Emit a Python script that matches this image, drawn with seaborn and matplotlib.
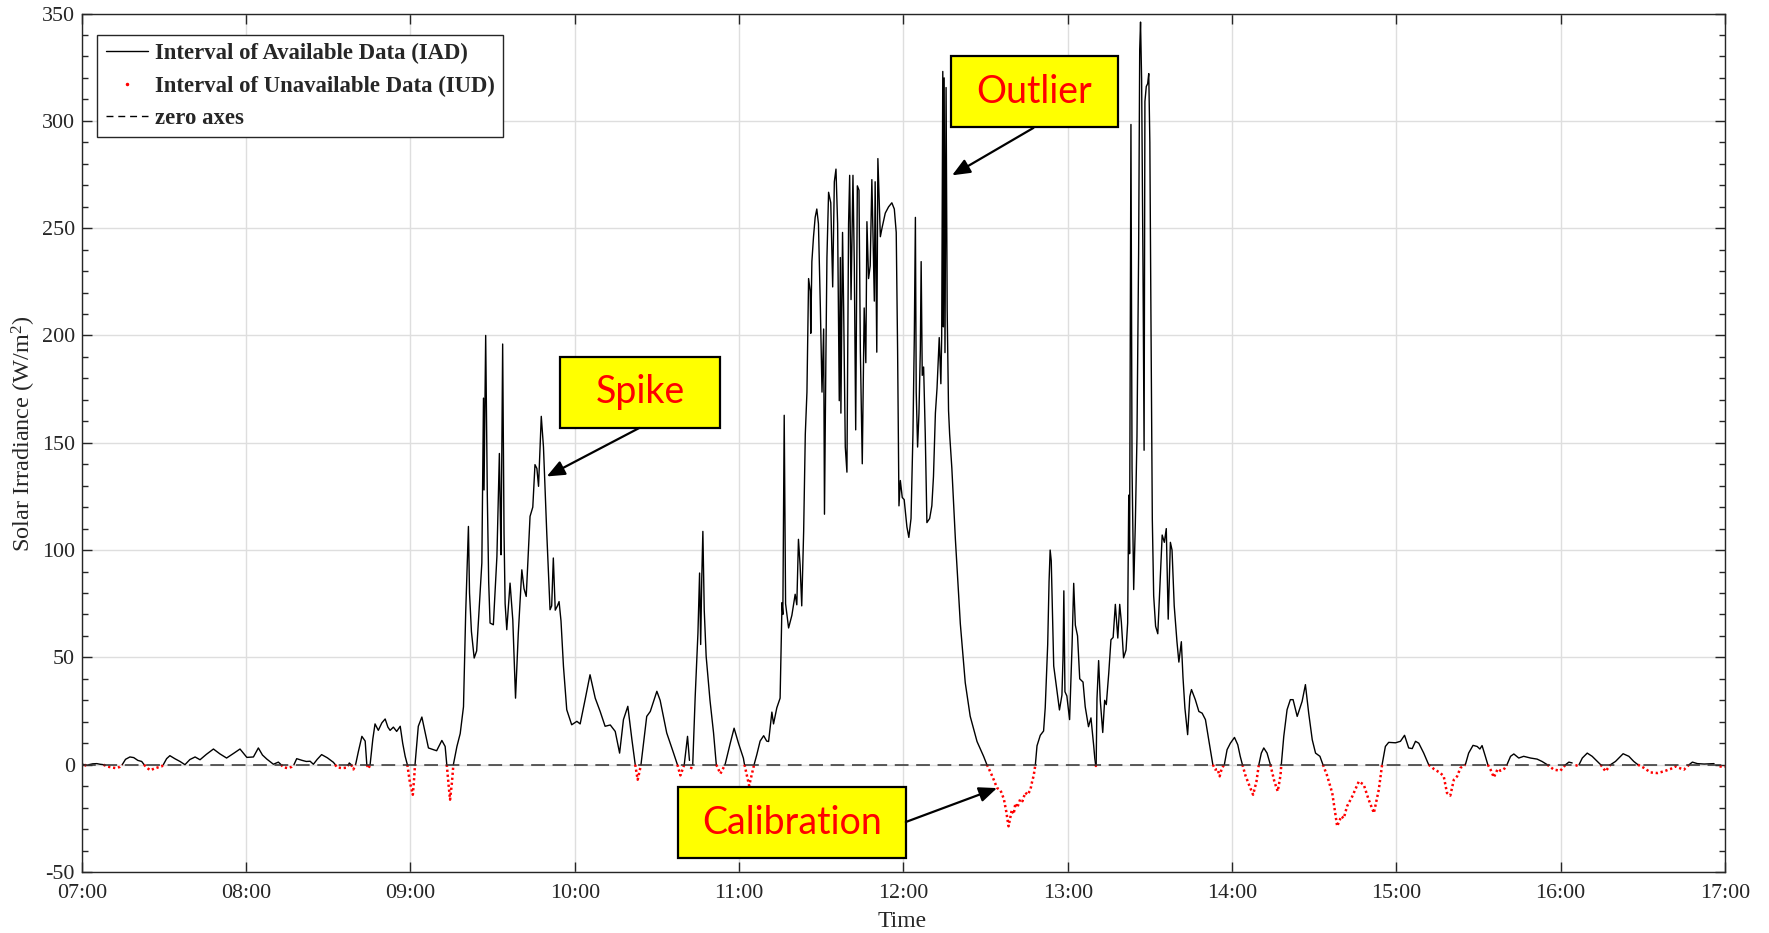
import numpy as np
import pandas as pd
import matplotlib
matplotlib.use("Agg")
import matplotlib.pyplot as plt
from matplotlib.lines import Line2D
from matplotlib.patches import Rectangle
from matplotlib.ticker import MultipleLocator, FixedLocator
import seaborn as sns

# Solar irradiance record, minutes after 07:00 and W/m^2
minutes = [
    0, 1, 1.8, 2.6, 4, 5.5, 6.7, 8, 9.1, 11, 12.5, 14, 14.8, 16, 17.6, 19, 20.5, 21.9,
    22.8, 23.6, 25, 26.5, 28, 29.2, 29.8, 31, 32.2, 34, 35.9, 37.7, 39.5, 41.4, 43.2,
    45.5, 48.1, 50.5, 52.9, 55.5, 57.8, 60.3, 62.7, 64.5, 66, 67.6, 70, 71.8, 72.8,
    73.6, 75.2, 76.7, 77.5, 78.5, 80.5, 82, 83.4, 84.6, 86, 87.6, 89.7, 91.9, 92.6,
    93.1, 95, 96.8, 97.4, 97.7, 98.4, 99.2, 100.0, 101.0, 102.3, 103.5, 104.1, 104.7,
    105.3, 106.3, 107.1, 108.3, 109.6, 110.8, 111.8, 112.6, 113.8, 115.0, 116.3, 117.2,
    118.1, 118.9, 119.8, 120.9, 121.4, 121.7, 122.9, 124.2, 125.4, 126.6, 128.4, 129.6,
    131.5, 132.7, 133.3, 134.0, 134.5, 135.2, 135.7, 137.0, 138.2, 139.4, 140.2, 141.2,
    141.6, 142.3, 143.3, 144.2, 145.0, 146.1, 146.7, 146.9, 147.5, 148.1, 148.6, 149.1,
    150.3, 151.6, 152.5, 152.8, 153.1, 153.7, 154.2, 154.6, 155.2, 156.4, 157.4, 158.4,
    159.4, 160.7, 161.5, 162.3, 163.7, 164.7, 165.5, 166.2, 166.8, 167.8, 168.6, 169.8,
    171.0, 171.6, 172.2, 172.9, 173.7, 174.3, 175.0, 175.9, 177.1, 178.9, 180.8, 182.0,
    183.8, 185.6, 187.5, 189.3, 191.1, 193.0, 194.8, 196.4, 197.8, 199.4, 200.9, 202.1,
    203.0, 204.2, 206.3, 207.6, 210.0, 211.2, 213.6, 216.1, 217.5, 218.6, 220.0, 221.2,
    221.9, 222.4, 223.1, 224.0, 225.0, 225.6, 226.0, 226.4, 226.8, 227.3, 228.0, 229.4,
    230.7, 231.7, 233.2, 234.9, 236.8, 238.2, 239.8, 241.6, 242.0, 243.7, 245.5, 246.5,
    247.7, 249.0, 250.1, 250.8, 252.0, 252.6, 253.8, 255.0, 255.7, 256.0, 256.5, 257.0,
    258.1, 259.3, 260.5, 261.1, 261.7, 262.3, 262.9, 263.6, 264.2, 264.8, 265.4, 266.0,
    266.2, 266.6, 267.2, 267.8, 268.4, 269.0, 269.7, 270.3, 270.9, 271.2, 271.7, 272.1,
    272.7, 273.5, 274.2, 274.8, 275.4, 276.0, 276.6, 277.0, 277.2, 277.8, 278.2, 278.8,
    279.4, 280.0, 280.4, 280.9, 281.6, 282.1, 282.6, 283.2, 283.8, 284.3, 285.0, 285.7,
    286.3, 286.7, 287.3, 287.9, 288.5, 288.9, 289.4, 289.7, 290.3, 290.7, 291.6, 292.2,
    293.4, 294.6, 295.8, 296.7, 297.4, 297.9, 298.4, 298.9, 299.6, 300.3, 301.3, 302.0,
    302.8, 303.5, 304.0, 304.4, 304.7, 305.2, 305.7, 306.2, 306.5, 306.9, 307.4, 308.0,
    308.6, 309.6, 310.4, 311.0, 311.7, 312.3, 313.1, 313.7, 314.0, 314.4, 314.6, 314.9,
    315.2, 315.6, 316.0, 316.5, 316.9, 317.7, 319.0, 320.8, 322.6, 324.4, 326.9, 329.3,
    330.5, 332.0, 333.0, 334.2, 335.5, 336.7, 337.6, 338.4, 339.0, 339.6, 340.3, 340.9,
    341.6, 342.7, 343.5, 344.5, 345.4, 346.4, 347.0, 347.6, 348.2, 348.8, 350.0, 351.2,
    351.8, 352.7, 353.2, 353.6, 354.0, 354.9, 356.1, 357.0, 357.9, 358.3, 358.6, 359.0,
    359.7, 360.7, 361.6, 362.2, 362.8, 363.6, 364.4, 365.6, 366.4, 367.6, 368.5, 369.5,
    369.9, 370.2, 370.3, 370.4, 370.7, 371.3, 371.9, 372.8, 373.5, 374.1, 375.0, 375.8,
    376.6, 377.4, 378.3, 379.0, 379.6, 380.4, 381.3, 381.9, 382.3, 382.6, 383.1, 383.5,
    384.1, 384.7, 385.3, 385.9, 386.3, 386.6, 387.0, 387.5, 387.9, 388.2, 388.7, 389.2,
    389.6, 390.0, 390.4, 390.9, 391.4, 392.1, 392.9, 393.6, 394.5, 395.3, 396.0, 396.7,
    397.5, 398.1, 398.9, 399.9, 400.6, 401.5, 402.1, 402.8, 403.8, 404.6, 405.2, 406.6,
    407.9, 409.1, 410.3, 411.5, 412.3, 413.0, 413.9, 414.7, 415.5, 416.3, 417.2, 418.2,
    419.4, 420.9, 422.1, 423.0, 423.8, 424.9, 426.1, 427.7, 428.9, 429.8, 430.7, 431.6,
    432.8, 434.0, 435.5, 436.7, 437.7, 438.0, 438.9, 440.1, 441.3, 442.3, 443.8, 445.6,
    446.8, 448.0, 449.3, 450.5, 452.1, 453.2, 454.7, 456.6, 458.4, 459.9, 460.8, 462.0,
    463.9, 466.3, 468.1, 469.9, 471.8, 473.6, 474.8, 476.0, 477.2, 479.7, 481.5, 483.0,
    484.5, 485.8, 487.0, 488.2, 490.0, 491.8, 493.7, 496.1, 497.3, 498.5, 499.7, 501.0,
    502.2, 503.4, 505.2, 506.4, 508.0, 509.5, 510.5, 511.3, 512.5, 513.4, 514.4, 515.6,
    517.0, 518.0, 519.2, 520.4, 521.7, 522.9, 524.7, 526.5, 529.0, 531.4, 533.2, 535.1,
    537.5, 539.9, 541.8, 543.0, 544.2, 545.4, 546.7, 547.9, 549.7, 551.5, 553.4, 554.6,
    556.4, 558.2, 560.0, 562.8, 564.9, 566.7, 568.2, 570.4, 572.8, 575.3, 577.7, 580.1,
    582.0, 583.2, 585.0, 586.9, 588.1, 589.9, 592.4, 596.0, 597.9, 600.0,
]

irradiance = [
    0.3, 0.0, -0.6, 0.0, 0.4, 0.5, 0.2, 0.0, -0.8, -1.3, -1.6, -1.0, 0.0, 2.5, 3.6, 3.3, 2.0, 1.5,
    0.0, -1.2, -2.6, -1.8, -1.2, -0.8, 0.0, 2.8, 4.2, 2.8, 1.5, 0.0, 2.4, 3.6, 2.3,
    4.8, 7.3, 5.0, 3.1, 5.3, 7.3, 3.4, 3.6, 7.8, 4.5, 2.6, 0.2, 1.2, 0.0,
    -1.2, -1.6, -1.0, 0.0, 2.8, 2.0, 1.5, 1.6, 0.2, 2.5, 4.7, 3.2, 1.1, 0.0,
    -1.2, -1.6, -1.4, 0.0, 0.8, 0.0, -2.2, 0.0, 6.0, 13.2, 11.0, 0.0, -1.8,
    0.0, 12.0, 19.0, 16.0, 19.5, 21.3, 17.5, 16.0, 17.5, 15.5, 17.9, 10.0,
    3.9, 0.0, -8.0, -14.0, -6.0, 0.0, 17.9, 22.2, 15.0, 7.8, 7.0, 6.5,
    11.3, 8.5, 0.0, -10.0, -16.3, -8.0, 0.0, 8.5, 14.5, 27.0, 70.7, 111.0,
    80.0, 62.0, 49.7, 53.0, 70.0, 94.0, 170.8, 128.0, 200.0, 125.0, 85.0, 66.0,
    65.2, 97.0, 145.0, 120.0, 97.8, 196.0, 108.0, 75.0, 62.9, 84.6, 67.5, 31.0,
    61.0, 90.8, 82.0, 78.4, 115.7, 120.0, 139.8, 138.0, 129.7, 162.3, 148.0, 108.0,
    72.2, 74.0, 96.3, 72.0, 74.0, 76.0, 67.0, 45.8, 25.6, 18.6, 20.2, 19.0,
    30.3, 41.9, 31.0, 24.8, 17.9, 18.5, 15.5, 5.4, 21.0, 27.2, 11.6, 0.0,
    -7.0, 0.0, 22.5, 24.8, 34.2, 30.0, 14.8, 5.4, 0.0, -5.0, 0.0, 13.2,
    2.0, -2.0, 0.0, 31.8, 61.3, 89.3, 56.0, 87.0, 108.7, 72.0, 50.5, 30.0,
    14.8, 0.0, -4.2, 0.0, 10.0, 17.0, 10.0, 3.0, 0.0, -9.8, 0.0, 4.7,
    11.0, 13.5, 11.0, 10.8, 24.5, 19.0, 26.5, 31.0, 75.5, 70.0, 162.8, 75.0,
    63.7, 69.6, 79.4, 74.5, 105.0, 93.0, 74.0, 108.8, 154.0, 173.6, 226.5, 220.6,
    201.0, 234.4, 246.0, 255.0, 258.9, 252.0, 212.8, 173.6, 203.0, 116.7, 187.3, 236.3,
    266.7, 261.8, 222.6, 271.6, 277.5, 252.0, 169.6, 236.3, 163.8, 248.0, 212.8, 148.0,
    136.3, 252.0, 274.6, 216.7, 274.6, 232.4, 156.0, 269.7, 267.7, 193.0, 140.2, 212.8,
    187.3, 253.0, 226.5, 232.4, 272.6, 248.0, 216.0, 271.6, 192.2, 282.4, 246.0, 250.0,
    257.0, 259.9, 261.8, 258.9, 248.0, 193.2, 120.6, 132.4, 124.5, 123.5, 110.8, 105.9,
    114.7, 154.0, 199.0, 255.0, 173.6, 148.0, 163.8, 193.2, 234.4, 181.4, 185.3, 154.0,
    112.8, 114.7, 120.6, 134.3, 163.8, 175.5, 199.0, 177.5, 200.0, 323.0, 204.0, 320.0,
    192.0, 315.5, 212.0, 165.0, 154.0, 138.3, 105.0, 65.7, 38.2, 22.6, 10.8, 3.9,
    0.0, -4.0, -7.0, -10.8, -12.0, -16.0, -22.0, -28.7, -25.0, -21.0, -23.0, -18.0,
    -20.0, -16.0, -17.0, -13.0, -14.0, -11.6, -8.0, -5.0, 0.0, 8.8, 13.7, 15.7,
    26.5, 55.9, 85.3, 100.0, 95.0, 46.0, 34.3, 25.5, 32.4, 50.0, 81.0, 34.0,
    32.0, 21.0, 55.5, 84.5, 65.0, 60.0, 40.0, 38.5, 27.0, 17.7, 21.8, 8.8,
    3.0, 0.0, -0.6, 0.0, 30.7, 48.5, 30.0, 15.0, 30.0, 28.0, 42.7, 58.2,
    59.3, 74.7, 59.0, 74.7, 66.4, 49.8, 53.4, 66.0, 125.6, 98.3, 298.3, 138.0,
    81.6, 112.4, 152.8, 238.1, 333.2, 346.0, 318.9, 231.0, 146.5, 309.0, 316.0, 317.3,
    322.0, 290.0, 209.0, 114.4, 78.7, 64.5, 61.0, 81.0, 107.0, 103.6, 110.0, 67.8,
    103.6, 100.0, 74.0, 57.3, 47.8, 57.3, 40.7, 26.4, 14.0, 31.8, 35.0, 30.3,
    24.8, 24.0, 21.0, 11.6, 5.4, 0.0, -2.3, -2.0, -5.4, -1.5, 0.0, 7.0,
    10.0, 12.7, 9.3, 3.9, 0.0, -5.0, -9.0, -14.0, -8.0, 0.0, 5.4, 7.8,
    5.4, 0.0, -8.0, -12.4, -5.0, 0.0, 13.2, 25.6, 30.3, 30.3, 22.5, 29.5,
    37.3, 24.0, 11.6, 5.4, 3.9, 0.0, -5.0, -13.2, -28.7, -24.0, -25.0, -19.4,
    -14.8, -7.8, -9.3, -16.3, -22.5, -11.6, 0.0, 8.5, 10.4, 10.2, 10.9, 13.7,
    7.8, 7.5, 10.9, 10.0, 5.4, 0.0, -2.0, -3.9, -5.4, -13.2, -14.4, -7.0,
    -5.4, -1.5, 0.0, 5.4, 9.0, 8.5, 7.3, 8.9, 3.9, 0.0, -2.3, -5.9,
    -2.0, -2.8, -2.3, 0.0, 3.9, 5.0, 3.1, 3.9, 3.1, 2.6, 1.5, 0.0,
    -2.3, -2.8, 0.0, 1.2, 0.8, -0.5, 0.0, 3.1, 5.4, 3.9, 1.5, 0.0,
    -3.1, 0.0, 1.5, 5.1, 3.9, 1.5, 0.0, -1.5, -3.6, -3.9, -3.1, -2.0,
    -0.8, -1.5, -2.3, 0.0, 1.2, 0.5, 0.3, 0.5, -0.5, -0.5,
]

hour_ticks = [0, 60, 120, 180, 240, 300, 360, 420, 480, 540, 600]
hour_labels = ["07:00", "08:00", "09:00", "10:00", "11:00", "12:00",
               "13:00", "14:00", "15:00", "16:00", "17:00"]

# Callouts: label, box (x0, x1, y0, y1), arrow start, arrow tip
callout_labels = ["Spike", "Outlier", "Calibration"]
callout_boxes = [(174.7, 233.2, 156.9, 190.0),
                 (317.4, 378.4, 297.2, 330.1),
                 (217.9, 300.9, -43.5, -10.4)]
callout_tails = [(203.6, 156.9), (347.5, 296.7), (300.9, -26.7)]
callout_heads = [(169.8, 134.3), (317.8, 274.6), (334.2, -10.9)]

sns.set_theme(style="ticks")
plt.rcParams["font.family"] = ["Liberation Serif", "DejaVu Serif"]
plt.rcParams["mathtext.fontset"] = "custom"
plt.rcParams["mathtext.rm"] = "Liberation Serif"
plt.rcParams["mathtext.it"] = "Liberation Serif:italic"
plt.rcParams["axes.unicode_minus"] = False

t = np.asarray(minutes, dtype=float)
v = np.asarray(irradiance, dtype=float)

# Split the record into available (>= 0) and unavailable (< 0) stretches
neg = v < 0
prev_neg = np.r_[False, neg[:-1]]
next_neg = np.r_[neg[1:], False]
avail_mask = v >= 0
unavail_mask = neg | ((v == 0) & (prev_neg | next_neg))


def run_ids(mask):
    return np.cumsum(np.r_[True, mask[1:] != mask[:-1]])


def run_ids_red(mask):
    # a zero point between two negative stretches closes one run and opens the next
    ids = np.zeros(len(mask), dtype=int)
    cur = 0
    for i in range(len(mask)):
        if not mask[i] or i == 0 or not mask[i - 1]:
            cur += 1
        ids[i] = cur
    return ids


df_avail = pd.DataFrame({"t": t, "v": v, "seg": run_ids(avail_mask)})[avail_mask]
df_unavail = pd.DataFrame({"t": t, "v": v, "seg": run_ids_red(unavail_mask)})[unavail_mask]

fig = plt.figure(figsize=(17.69, 9.33), dpi=100)
ax = fig.add_axes([81.7 / 1769, 1 - 872 / 933, (1725 - 81.7) / 1769, (872 - 13.5) / 933])

axis_col = "#262626"
ax.grid(True, which="major", color="#dedede", lw=1.0)
ax.set_axisbelow(True)

sns.lineplot(data=df_avail, x="t", y="v", units="seg", estimator=None, sort=False,
             color="black", linewidth=1.0, ax=ax, legend=False)
sns.lineplot(data=df_unavail, x="t", y="v", units="seg", estimator=None, sort=False,
             color="red", linewidth=1.8, linestyle=(0, (0.9, 1.1)), ax=ax, legend=False)
ax.axhline(0, color="#303030", lw=1.1, ls=(0, (9, 5)), zorder=3)

ax.set_xlim(0, 600)
ax.set_ylim(-50, 350)
ax.xaxis.set_major_locator(FixedLocator(hour_ticks))
ax.set_xticklabels(hour_labels)
ax.yaxis.set_major_locator(MultipleLocator(50))
ax.yaxis.set_minor_locator(MultipleLocator(10))
ax.tick_params(axis="both", which="both", direction="in", top=True, right=True,
               colors=axis_col, labelcolor=axis_col, labelsize=15.8, width=1.0)
ax.tick_params(axis="both", which="major", length=7)
ax.tick_params(axis="y", which="minor", length=4)
ax.tick_params(axis="x", pad=9)
ax.tick_params(axis="y", pad=5)
for sp in ax.spines.values():
    sp.set_color(axis_col)
    sp.set_linewidth(1.0)

ax.set_xlabel("Time", fontsize=17, color=axis_col)
ax.set_ylabel("Solar Irradiance (W/m$^2$)", fontsize=17.5, color=axis_col)
ax.xaxis.set_label_coords(0.4995, -0.045)
ax.yaxis.set_label_coords(-0.0265, 0.51)

handles = [
    Line2D([], [], color="black", lw=1.0),
    Line2D([], [], color="red", marker=".", ls="none", markersize=3),
    Line2D([], [], color="black", lw=1.0, ls=(0, (5, 3.5))),
]
labels = ["Interval of Available Data (IAD)",
          "Interval of Unavailable Data (IUD)",
          "zero axes"]
leg = ax.legend(handles, labels, loc="upper left", bbox_to_anchor=(0.0095, 0.975),
                prop={"family": "Liberation Serif", "weight": "bold", "size": 16.4},
                frameon=True, fancybox=False, framealpha=1, edgecolor=axis_col,
                borderpad=0.36, labelspacing=0.49, handlelength=1.85, handletextpad=0.33,
                borderaxespad=0)
leg.get_frame().set_linewidth(1.0)
leg.set_zorder(10)

for label, (x0, x1, y0, y1), tail, head in zip(callout_labels, callout_boxes,
                                               callout_tails, callout_heads):
    ax.add_patch(Rectangle((x0, y0), x1 - x0, y1 - y0, facecolor="#ffff00",
                           edgecolor="black", lw=1.6, zorder=6))
    ax.text((x0 + x1) / 2, (y0 + y1) / 2, label, ha="center", va="center",
            color="red", fontsize=27, family=["Lato", "DejaVu Sans"], zorder=7)
    ax.annotate("", xy=head, xytext=tail,
                arrowprops=dict(arrowstyle="-|>,head_length=0.9,head_width=0.38",
                                mutation_scale=12, color="black", lw=1.6,
                                shrinkA=0, shrinkB=0),
                zorder=7)

fig.savefig("out.png", dpi=100)
